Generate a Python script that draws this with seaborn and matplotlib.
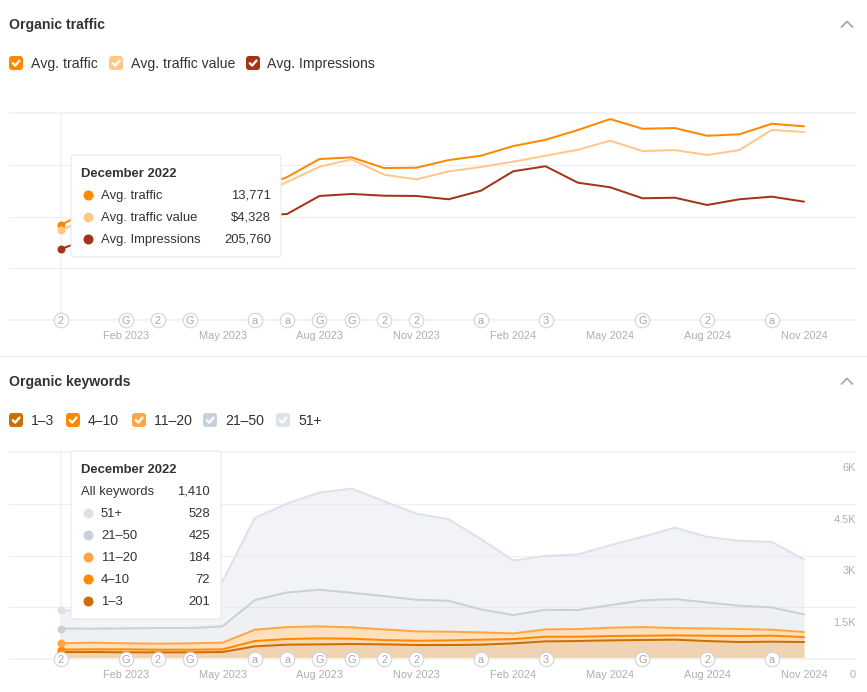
import matplotlib
matplotlib.use("Agg")
import numpy as np
import seaborn as sns
import matplotlib.pyplot as plt
from matplotlib.patches import FancyBboxPatch
from matplotlib.transforms import ScaledTranslation

months = list(range(24))
tick_positions = [2, 5, 8, 11, 14, 17, 20, 23]
tick_labels = ["Feb 2023", "May 2023", "Aug 2023", "Nov 2023", "Feb 2024", "May 2024", "Aug 2024", "Nov 2024"]

avg_traffic = [13771, 16230, 16950, 17390, 17820, 17970, 18840, 20720, 23330, 23570, 22020, 22070,
               23180, 23810, 25210, 26120, 27530, 29120, 27720, 27820, 26700, 26910, 28440, 28070]
avg_value = [4328, 5070, 5310, 5460, 5600, 5700, 5990, 6665, 7405, 7760, 7020, 6795,
             7180, 7390, 7650, 7935, 8225, 8660, 8160, 8210, 7970, 8210, 9180, 9080]
avg_impressions = [205760, 240600, 255100, 266700, 278300, 289900, 301500, 307300, 359500, 365300, 360300, 359500,
                   349900, 374800, 431100, 445600, 398000, 384700, 352800, 354500, 333400, 349900, 357500, 343000]

kw_1_3 = [201, 203, 193, 193, 193, 203, 367, 415, 424, 434, 424, 405,
          405, 415, 453, 511, 521, 540, 550, 560, 521, 492, 502, 492]
kw_4_10 = [72, 77, 87, 77, 77, 77, 154, 164, 174, 154, 125, 125,
           135, 145, 125, 135, 125, 125, 125, 125, 154, 174, 174, 145]
kw_11_20 = [184, 193, 174, 174, 183, 193, 328, 347, 347, 328, 309, 270,
            251, 212, 164, 212, 222, 241, 251, 212, 212, 203, 174, 145]
kw_21_50 = [425, 405, 434, 453, 444, 473, 859, 1003, 1061, 1003, 965, 916,
            897, 666, 531, 569, 550, 656, 772, 839, 752, 675, 646, 511]
kw_51 = [528, 531, 550, 569, 617, 1302, 2383, 2576, 2817, 3020, 2749, 2499,
         2364, 2036, 1582, 1563, 1611, 1736, 1843, 2074, 1900, 1881, 1900, 1592]

event_months = [0, 2, 3, 4, 6, 7, 8, 9, 10, 11, 13, 15, 18, 20, 22]
event_labels = ["2", "G", "2", "G", "a", "a", "G", "G", "2", "2", "a", "3", "G", "2", "a"]

kw_ticks = [0, 1500, 3000, 4500, 6000]
kw_tick_labels = ["0", "1.5K", "3K", "4.5K", "6K"]

C_TRAFFIC, C_VALUE, C_IMPR = "#ff8800", "#ffc78a", "#a33417"
C_13, C_410, C_1120, C_2150, C_51 = "#cc6f00", "#ff8800", "#ffa640", "#c8d0da", "#dde2ea"
GRID = "#eeeeee"
TICK = "#abb0b5"
TEXT = "#333333"

sns.set_theme(style="white")
plt.rcParams["font.family"] = ["Liberation Sans", "DejaVu Sans"]
plt.rcParams["text.kerning_factor"] = 6

W, H = 867, 692
fig = plt.figure(figsize=(W / 100, H / 100), dpi=100, facecolor="white")
PX = 0.72
LEFT, RIGHT = 9, 856
X0, X1 = 61, 804
step = (X1 - X0) / 23
xlim = ((LEFT - X0) / step, (RIGHT - X0) / step)


def make_axes(top, bottom):
    ax = fig.add_axes([LEFT / W, 1 - bottom / H, (RIGHT - LEFT) / W, (bottom - top) / H])
    ax.set_xlim(*xlim)
    ax.set_xticks(tick_positions, tick_labels)
    ax.tick_params(axis="x", length=0, pad=19 * PX, labelsize=11 * PX, labelcolor=TICK)
    for lab in ax.get_xticklabels():
        lab.set_va("baseline")
    ax.grid(axis="y", color=GRID, lw=1 * PX)
    ax.set_axisbelow(True)
    for s in ("left", "right"):
        ax.spines[s].set_visible(False)
    for s in ("top", "bottom"):
        ax.spines[s].set_color("#f3f3f3")
        ax.spines[s].set_linewidth(2 * PX)
        ax.spines[s].set_capstyle("butt")
    ax.axvline(0, color="#f1f1f1", lw=1.5 * PX, zorder=1)
    return ax


def events(ax):
    trans = ax.get_xaxis_transform()
    ax.scatter(event_months, [0] * len(event_months), s=(14.5 * PX) ** 2, facecolor="white",
               edgecolor="#d6d6d6", linewidth=1.2 * PX, transform=trans, clip_on=False, zorder=20)
    for m, lab in zip(event_months, event_labels):
        ax.text(m, 0, lab, transform=trans, ha="center", va="center_baseline", fontsize=11 * PX,
                color="#a8a8a8", zorder=21, clip_on=False)


# ---- Organic traffic ----
ax_t = make_axes(113, 320)
ax_t.set_ylim(0, 30000)
ax_t.set_yticks([0, 7500, 15000, 22500, 30000])
ax_t.tick_params(axis="y", length=0, labelleft=False)
ax_v = ax_t.twinx()
ax_v.set_ylim(0, 10000)
ax_i = ax_t.twinx()
ax_i.set_ylim(0, 600000)
for a, vals, col in [(ax_t, avg_traffic, C_TRAFFIC), (ax_v, avg_value, C_VALUE), (ax_i, avg_impressions, C_IMPR)]:
    sns.lineplot(x=months, y=vals, ax=a, color=col, lw=2 * PX, legend=False, zorder=5)
    a.plot(months[0], vals[0], "o", color=col, ms=8 * PX, mew=0, zorder=6, clip_on=False)
    a.set_ylabel("")
for a in (ax_v, ax_i):
    a.set_yticks([])
    for s in a.spines.values():
        s.set_visible(False)
events(ax_i)

# ---- Organic keywords ----
ax_k = make_axes(452, 659)
ax_k.set_ylim(0, 6000)
ax_k.yaxis.tick_right()
ax_k.set_yticks(kw_ticks, kw_tick_labels)
ax_k.tick_params(axis="y", length=0, pad=0, labelsize=11 * PX, labelcolor=TICK)
offset = ScaledTranslation(0, -19 / 100, fig.dpi_scale_trans)
for lab in ax_k.get_yticklabels():
    lab.set_ha("right")
    lab.set_va("baseline")
    lab.set_transform(lab.get_transform() + offset)

bands = [(kw_1_3, C_13, 0.30), (kw_4_10, C_410, 0.32), (kw_11_20, C_1120, 0.34),
         (kw_21_50, C_2150, 0.30), (kw_51, C_51, 0.40)]
base = np.zeros(24)
tops = []
for vals, col, alpha in bands:
    top = base + np.array(vals)
    ax_k.fill_between(months, base, top, color=col, alpha=alpha, lw=0, zorder=2)
    tops.append((top, col))
    base = top
for top, col in reversed(tops):
    sns.lineplot(x=months, y=top, ax=ax_k, color=col, lw=2 * PX, legend=False, zorder=5)
for top, col in tops:
    ax_k.plot(months[0], top[0], "o", color=col, ms=8 * PX, mew=0, zorder=6, clip_on=False)
ax_k.set_ylabel("")
events(ax_k)

# ---- page furniture ----
ov = fig.add_axes([0, 0, 1, 1], zorder=50)
ov.set_xlim(0, W)
ov.set_ylim(H, 0)
ov.axis("off")
ov.patch.set_alpha(0)


def txt(x, y, s, size=14, color=TEXT, ha="left", weight="normal"):
    ov.text(x, round(y + 0.36 * size) - 0.2, s, fontsize=size * PX, color=color, ha=ha, va="baseline",
            fontweight=weight, zorder=60)


def checkbox(x, yc, col):
    ov.add_patch(FancyBboxPatch((x + 2, yc - 5), 10, 10, boxstyle="round,pad=2,rounding_size=3",
                                fc=col, ec="none", zorder=55))
    ov.plot([x + 3.8, x + 6.2, x + 10.5], [yc + 0.2, yc + 2.6, yc - 2.4], color="white", lw=2.3 * PX,
            solid_capstyle="round", zorder=56)


def chevron(yc):
    ov.plot([841.5, 847, 852.5], [yc + 3, yc - 2.5, yc + 3], color="#a8a8a8", lw=1.8 * PX, zorder=55)


def tooltip(x0, y0, x1, y1):
    for grow, a in [(3, 0.025), (2, 0.03), (1, 0.04)]:
        ov.add_patch(FancyBboxPatch((x0 + 3 - grow, y0 + 4 - grow), x1 - x0 - 6 + 2 * grow, y1 - y0 - 6 + 2 * grow,
                                    boxstyle="round,pad=0,rounding_size=4", fc="black", ec="none", alpha=a, zorder=52))
    ov.add_patch(FancyBboxPatch((x0 + 3, y0 + 3), x1 - x0 - 6, y1 - y0 - 6, boxstyle="round,pad=3,rounding_size=3",
                                fc="white", ec="#e6e6e6", lw=1 * PX, zorder=53))


txt(9, 24, "Organic traffic", size=14, weight="bold")
chevron(24)
for x, xt, lab, col in [(9, 31, "Avg. traffic", C_TRAFFIC), (109, 131, "Avg. traffic value", C_VALUE),
                        (246, 267, "Avg. Impressions", C_IMPR)]:
    checkbox(x, 63, col)
    txt(xt, 63, lab)

ov.plot([0, W], [355.5, 355.5], color="#e9e9e9", lw=1 * PX, zorder=50)

txt(9, 381, "Organic keywords", size=14, weight="bold")
chevron(381)
for x, xt, lab, col in [(9, 31, "1–3", C_13), (66, 88, "4–10", C_410), (132, 154, "11–20", C_1120),
                        (203, 225, "21–50", C_2150), (276, 298, "51+", C_51)]:
    checkbox(x, 420, col)
    txt(xt, 420, lab)

tooltip(71, 155, 281, 257)
txt(81, 172, "December 2022", size=13, weight="bold")
rows_t = [("Avg. traffic", f"{avg_traffic[0]:,}", C_TRAFFIC), ("Avg. traffic value", f"${avg_value[0]:,}", C_VALUE),
          ("Avg. Impressions", f"{avg_impressions[0]:,}", C_IMPR)]
for y, (lab, val, col) in zip([194.5, 216.5, 238.5], rows_t):
    ov.plot(88, y, "o", color=col, ms=10 * PX, mew=0, zorder=60)
    txt(101, y, lab, size=13)
    txt(271, y, val, size=13, ha="right")

tooltip(71, 451, 221, 619)
txt(81, 468, "December 2022", size=13, weight="bold")
total = kw_1_3[0] + kw_4_10[0] + kw_11_20[0] + kw_21_50[0] + kw_51[0]
txt(81, 490.5, "All keywords", size=13)
txt(210, 490.5, f"{total:,}", size=13, ha="right")
rows_k = [("51+", kw_51[0], C_51), ("21–50", kw_21_50[0], C_2150), ("11–20", kw_11_20[0], C_1120),
          ("4–10", kw_4_10[0], C_410), ("1–3", kw_1_3[0], C_13)]
for y, (lab, val, col) in zip([512.5, 534.5, 556.5, 578.5, 600.5], rows_k):
    ov.plot(88, y, "o", color=col, ms=10 * PX, mew=0, zorder=60)
    txt(101, y, lab, size=13)
    txt(210, y, f"{val:,}", size=13, ha="right")

fig.savefig("out.png", dpi=100, facecolor="white")
